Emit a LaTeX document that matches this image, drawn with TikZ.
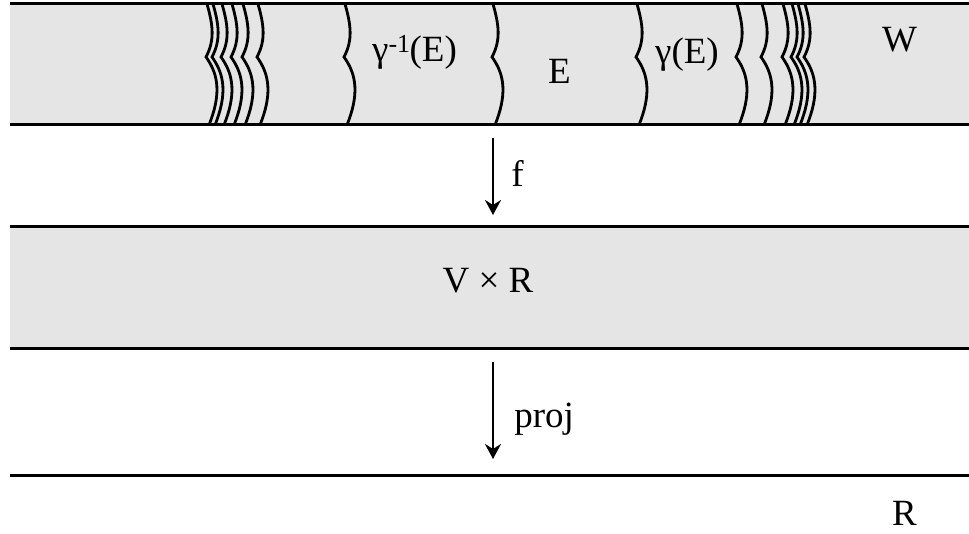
\documentclass[tikz,border=0pt]{standalone}
\usepackage{fontspec}
\setmainfont{Liberation Serif}
\usetikzlibrary{arrows.meta}

\begin{document}
\begin{tikzpicture}[
  x=1pt, y=-1pt,
  font=\fontsize{37}{40}\selectfont,
  band/.style ={fill=black!10, draw=none},
  rim/.style  ={line width=3pt},
  wave/.style ={line width=2.8pt},
  lbl/.style  ={anchor=base west, inner sep=0pt},
  ar/.style   ={-{Stealth[length=15pt,width=16pt,inset=5pt]}, line width=2.5pt},
]
\useasboundingbox (0,0) rectangle (969,534);

% --- bands ---
\fill[band] (10,4) rectangle (969,125);
\fill[band] (10,227) rectangle (969,349);
\draw[rim] (10,4) -- (969,4);
\draw[rim] (10,125) -- (969,125);
\draw[rim] (10,227) -- (969,227);
\draw[rim] (10,349) -- (969,349);
\draw[rim] (10,475) -- (969,475);

% --- level sets in W ---
\foreach \x in {207,213,222,232,243,258,345,493,637,737,762,783,792,798,805}
  \draw[wave] (\x,4) .. controls (\x+6,25) and (\x+8,40) .. (\x-1,57)
                     .. controls (\x+12,75) and (\x+14,95) .. (\x+2,125);

% --- labels ---
\node[lbl] (ginv) at (372,62) {γ\textsuperscript{-1}\kern-1pt(E)};
\node[lbl] (E)    at (548,84) {E};
\node[lbl] (gE)   at (655,64) {γ(E)};
\node[lbl] (W)    at (882,52) {W};
\node[anchor=base, inner sep=0pt] (VR) at (488,293) {V × R};
\node[lbl] (R)    at (892,525) {R};

% --- maps ---
\coordinate (fA) at (493,138);
\coordinate (fB) at (493,215);
\coordinate (pA) at (493,362);
\coordinate (pB) at (493,459);
\draw[ar] (fA) -- (fB) node[lbl, pos=0.5, xshift=17pt, yshift=-10pt] (f) {f};
\draw[ar] (pA) -- (pB) node[lbl, pos=0.5, xshift=20pt, yshift=-17pt] (proj) {proj};
\end{tikzpicture}
\end{document}
